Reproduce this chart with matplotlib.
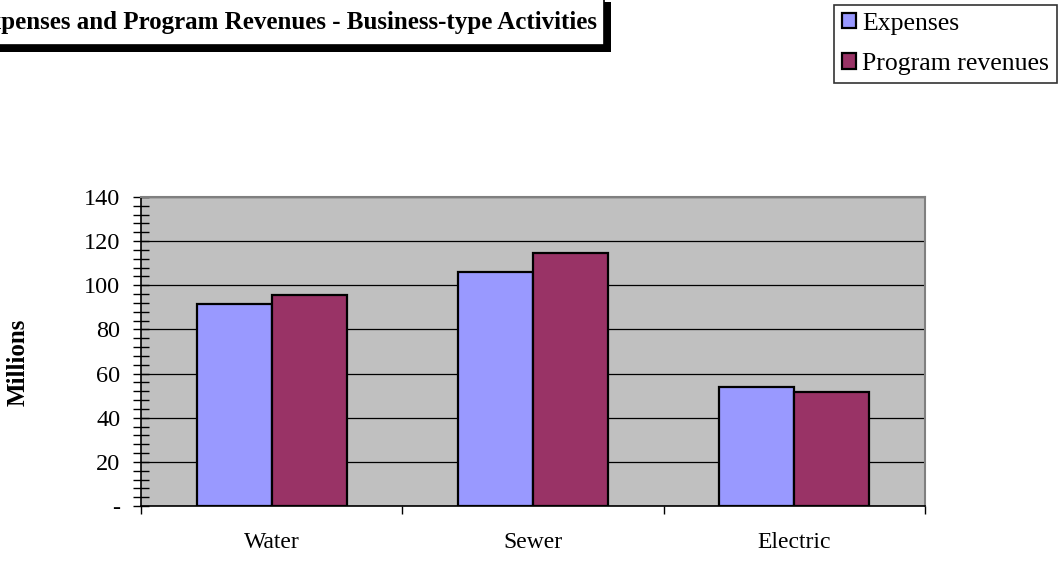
import matplotlib
matplotlib.use('Agg')
import matplotlib.pyplot as plt
from matplotlib.patches import Rectangle
from matplotlib.ticker import MultipleLocator, FixedLocator
import numpy as np

categories = ['Water', 'Sewer', 'Electric']
expenses = [91.5, 105.9, 53.8]
program_revenues = [95.6, 114.6, 51.7]
series_names = ['Expenses', 'Program revenues']
y_ticks = [0, 20, 40, 60, 80, 100, 120, 140]
y_tick_labels = ['-', '20', '40', '60', '80', '100', '120', '140']
title = 'Expenses and Program Revenues - Business-type Activities'
y_label = 'Millions'

plt.rcParams['font.family'] = ['Liberation Serif', 'DejaVu Serif']

W, H = 1063, 565
fig = plt.figure(figsize=(W / 100, H / 100), dpi=100)


def fx(x):
    return x / W


def fy(y):
    return 1 - y / H


ax = fig.add_axes([fx(141), fy(506), fx(925) - fx(141), fy(197) - fy(506)])
ax.set_facecolor('#C0C0C0')
x = np.arange(len(categories))
bw = 0.287
b1 = ax.bar(x - bw / 2, expenses, bw, color='#9999FF', edgecolor='black',
            linewidth=1.6, zorder=3)
b2 = ax.bar(x + bw / 2, program_revenues, bw, color='#993366', edgecolor='black',
            linewidth=1.6, zorder=3)
ax.set_xlim(-0.5, 2.5)
ax.set_ylim(0, 140)
ax.yaxis.set_major_locator(FixedLocator(y_ticks))
ax.set_yticklabels(y_tick_labels)
ax.yaxis.set_minor_locator(MultipleLocator(4))
ax.grid(axis='y', which='major', color='black', linewidth=0.9, zorder=1)
ax.set_axisbelow(True)

ax.set_xticks([-0.5, 0.5, 1.5, 2.5])
ax.set_xticklabels([])
ax.set_xticks(x, minor=True)
ax.set_xticklabels(categories, minor=True, fontsize=17)
ax.tick_params(axis='x', which='minor', length=0, pad=19)
ax.tick_params(axis='x', which='major', length=6, direction='out', width=1, color='black')
ax.tick_params(axis='y', which='both', direction='inout', length=12, width=1)
ax.tick_params(axis='y', which='major', labelsize=17.5, pad=9)

for s in ['top', 'right']:
    ax.spines[s].set_color('#808080')
    ax.spines[s].set_linewidth(1.5)
for s in ['left', 'bottom']:
    ax.spines[s].set_color('black')
    ax.spines[s].set_linewidth(1.2)

fig.text(fx(18), fy(362), y_label, rotation=90, fontweight='bold', fontsize=18,
         ha='center', va='center')

# Title box with shadow (the reference cuts the title at the left edge)
shadow = Rectangle((fx(-20), fy(52)), fx(611) - fx(-20), fy(2) - fy(52),
                   transform=fig.transFigure, facecolor='black', edgecolor='none')
box = Rectangle((fx(-20), fy(45)), fx(604) - fx(-20), fy(-5) - fy(45),
                transform=fig.transFigure, facecolor='white', edgecolor='black',
                linewidth=1.2)
fig.add_artist(shadow)
fig.add_artist(box)
fig.text(fx(597), fy(22), title, ha='right', va='center', fontsize=18,
         fontweight='bold')

leg = fig.legend(handles=[b1, b2], labels=series_names, loc='upper right',
                 bbox_to_anchor=(fx(1057), fy(5)), fontsize=18.5, frameon=True,
                 fancybox=False, edgecolor='black', borderaxespad=0,
                 handlelength=0.55, handleheight=0.55, handletextpad=0.25,
                 labelspacing=0.72, borderpad=0.3)
leg.get_frame().set_linewidth(1.2)

fig.savefig('out.png', dpi=100)
